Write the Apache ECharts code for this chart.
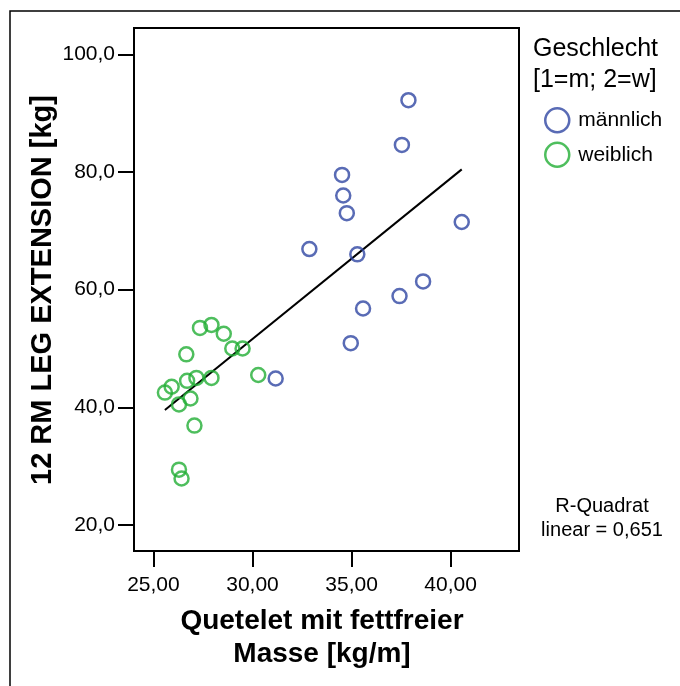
<!DOCTYPE html>
<html>
<head>
<meta charset="utf-8">
<script src="https://cdn.jsdelivr.net/npm/echarts@6/dist/echarts.min.js"></script>
<style>
  html, body { margin: 0; padding: 0; background: #fff; }
  #chart { width: 680px; height: 686px; }
</style>
</head>
<body>
<div id="chart"></div>
<script>
// Quetelet index (fat-free mass) vs. 12 RM leg extension, split by sex
const maleX   = [37.87, 37.54, 34.52, 34.58, 34.76, 32.87, 35.29, 40.56, 38.61, 37.42, 35.58, 34.96, 31.17];
const maleY   = [92.2, 84.6, 79.5, 76.0, 73.0, 66.9, 66.0, 71.5, 61.4, 58.9, 56.8, 50.9, 44.9];
const femaleX = [27.35, 27.93, 28.55, 28.98, 29.50, 26.66, 30.29, 27.93, 27.17, 26.70, 25.92, 25.58, 26.87, 26.29, 27.07, 26.29, 26.42];
const femaleY = [53.5, 54.0, 52.5, 50.0, 50.0, 49.0, 45.5, 45.0, 45.0, 44.5, 43.5, 42.5, 41.5, 40.5, 36.9, 29.4, 27.9];

const xTicks = [25, 30, 35, 40];
const yTicks = [20, 40, 60, 80, 100];
const seriesNames = ['männlich', 'weiblich'];
const rSquaredText = ['R-Quadrat', 'linear = 0,651'];

const BLUE = '#2f46a2';
const GREEN = '#22ae34';
const FONT = '"Liberation Sans", Arial, Helvetica, sans-serif';

const zip = (xs, ys) => xs.map((x, i) => [x, ys[i]]);
const male = zip(maleX, maleY);
const female = zip(femaleX, femaleY);

// Least-squares fit over all cases
const all = male.concat(female);
const n = all.length;
const mx = all.reduce((s, p) => s + p[0], 0) / n;
const my = all.reduce((s, p) => s + p[1], 0) / n;
let sxy = 0, sxx = 0;
all.forEach(p => { sxy += (p[0] - mx) * (p[1] - my); sxx += (p[0] - mx) ** 2; });
const slope = sxy / sxx;
const icpt = my - slope * mx;
const xLo = Math.min(...all.map(p => p[0]));
const xHi = Math.max(...all.map(p => p[0]));
const fitLine = [[xLo, icpt + slope * xLo], [xHi, icpt + slope * xHi]];

const comma = (v, d) => v.toFixed(d).replace('.', ',');

const chart = echarts.init(document.getElementById('chart'), null, { renderer: 'canvas' });
chart.setOption({
  animation: false,
  backgroundColor: '#fff',
  textStyle: { fontFamily: FONT },
  grid: {
    left: 134, top: 28, width: 385, height: 523,
    show: true, borderColor: '#000', borderWidth: 2, backgroundColor: '#fff'
  },
  xAxis: {
    type: 'value', min: 24.02, max: 43.45,
    axisLine: { show: false },
    splitLine: { show: false },
    axisTick: { show: true, length: 16, customValues: xTicks, lineStyle: { color: '#000', width: 2 } },
    axisLabel: { customValues: xTicks, formatter: v => comma(v, 2), color: '#000', fontSize: 21, margin: 24, fontFamily: FONT }
  },
  yAxis: {
    type: 'value', min: 15.58, max: 104.47,
    axisLine: { show: false },
    splitLine: { show: false },
    axisTick: { show: true, length: 16, customValues: yTicks, lineStyle: { color: '#000', width: 2 } },
    axisLabel: { customValues: yTicks, formatter: v => comma(v, 1), color: '#000', fontSize: 21, margin: 19, fontFamily: FONT }
  },
  legend: {
    orient: 'vertical', left: 539, top: 102,
    itemWidth: 24, itemHeight: 24, itemGap: 8,
    textStyle: { fontSize: 21, color: '#000', padding: [0, 0, 0, 4], fontFamily: FONT },
    data: [
      { name: seriesNames[0], icon: 'circle', itemStyle: { color: 'rgba(0,0,0,0)', borderColor: BLUE, borderWidth: 2.5 } },
      { name: seriesNames[1], icon: 'circle', itemStyle: { color: 'rgba(0,0,0,0)', borderColor: GREEN, borderWidth: 2.5 } }
    ]
  },
  graphic: [
    { type: 'rect', shape: { x: 10, y: 11, width: 720, height: 720 }, style: { fill: 'none', stroke: '#000', lineWidth: 1.5 }, silent: true, z: -10 },
    { type: 'text', x: 43, y: 290, rotation: Math.PI / 2,
      style: { text: '12 RM LEG EXTENSION [kg]', font: 'bold 29px ' + FONT, fill: '#000', align: 'center', verticalAlign: 'middle' } },
    { type: 'text', left: 533, top: 34, style: { text: 'Geschlecht\n[1=m; 2=w]', font: '25px ' + FONT, fill: '#000', lineHeight: 31 } },
    { type: 'text', x: 602, y: 494, style: { text: rSquaredText.join('\n'), font: '20px ' + FONT, fill: '#000', align: 'center', lineHeight: 24 } },
    { type: 'text', x: 322, y: 605, style: { text: 'Quetelet mit fettfreier\nMasse [kg/m]', font: 'bold 28px ' + FONT, fill: '#000', align: 'center', lineHeight: 33 } }
  ],
  series: [
    {
      name: seriesNames[0], type: 'scatter', data: male, symbol: 'circle', symbolSize: 14,
      itemStyle: { color: 'rgba(0,0,0,0)', borderColor: BLUE, borderWidth: 2.5 }, z: 3
    },
    {
      name: seriesNames[1], type: 'scatter', data: female, symbol: 'circle', symbolSize: 14,
      itemStyle: { color: 'rgba(0,0,0,0)', borderColor: GREEN, borderWidth: 2.5 }, z: 3
    },
    {
      name: 'fit', type: 'line', data: fitLine, symbol: 'none', silent: true,
      lineStyle: { color: '#000', width: 2 }, z: 2
    }
  ]
});
</script>
</body>
</html>
